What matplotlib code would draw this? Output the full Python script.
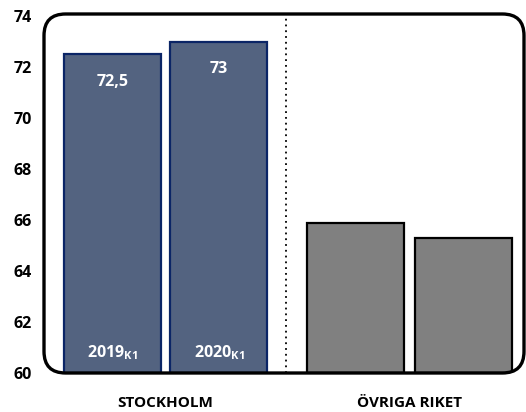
import matplotlib
matplotlib.use("Agg")
import matplotlib.pyplot as plt
from matplotlib.patches import FancyBboxPatch

# data
groups = ["STOCKHOLM", "ÖVRIGA RIKET"]
years = ["2019", "2020"]
stockholm = [72.5, 73.0]
ovriga = [65.9, 65.3]
value_labels = ["72,5", "73"]
yticks = [60, 62, 64, 66, 68, 70, 72, 74]

plt.rcParams["font.family"] = ["Open Sans", "DejaVu Sans"]
plt.rcParams["mathtext.fontset"] = "custom"
plt.rcParams["mathtext.rm"] = "Open Sans:bold"
plt.rcParams["mathtext.bf"] = "Open Sans:bold"

W, H = 526, 412
fig = plt.figure(figsize=(W / 100, H / 100), dpi=100)
# axes placed in pixel terms
left, right, top, bottom = 44, 524, 14, 373
ax = fig.add_axes([left / W, (H - bottom) / H, (right - left) / W, (bottom - top) / H])

x_st = [0, 1]
x_ov = [2.28, 3.29]
bw = 0.91
navy = "#536380"
navy_edge = "#0B2566"
grey = "#808080"

ax.bar(x_st, [v - 60 for v in stockholm], bottom=60, width=bw, color=navy,
       edgecolor=navy_edge, linewidth=1.6, zorder=2)
ax.bar(x_ov, [v - 60 for v in ovriga], bottom=60, width=bw, color=grey,
       edgecolor="black", linewidth=1.6, zorder=2)

ax.set_xlim(-0.64, 3.86)
ax.set_ylim(60, 74.08)

# dotted separator
ax.axvline(1.63, color="black", linestyle=(0, (1, 2.2)), linewidth=1.3, zorder=1)

# value labels inside bars
for x, v, lab in zip(x_st, stockholm, value_labels):
    ax.annotate(lab, (x, v), xytext=(0, -20), textcoords="offset points",
                ha="center", va="center", color="white", fontsize=11.5,
                fontweight="bold", zorder=3)
for x, yr in zip(x_st, years):
    ax.annotate(yr + r"$_{\mathrm{K1}}$", (x, 60), xytext=(0, 15),
                textcoords="offset points", ha="center", va="center",
                color="white", fontsize=11.5, fontweight="bold", zorder=3)

# category labels
for xs, g in zip([x_st, x_ov], groups):
    ax.annotate(g, (sum(xs) / 2, 60), xytext=(0, -21.5), textcoords="offset points",
                ha="center", va="center", fontsize=11, fontweight="bold",
                annotation_clip=False)

ax.set_yticks(yticks)
ax.set_yticklabels([str(t) for t in yticks], fontsize=11.5, fontweight="bold")
ax.tick_params(axis="y", length=0, pad=9)
ax.set_xticks([])
for s in ax.spines.values():
    s.set_visible(False)

# rounded frame
frame = FancyBboxPatch((0, 0), 1, 1, boxstyle="round,pad=0,rounding_size=0.045",
                       transform=ax.transAxes, fill=False, edgecolor="black",
                       linewidth=2.4, clip_on=False, zorder=4,
                       mutation_aspect=(right - left) / (bottom - top))
ax.add_patch(frame)

fig.savefig("out.png", dpi=100)
